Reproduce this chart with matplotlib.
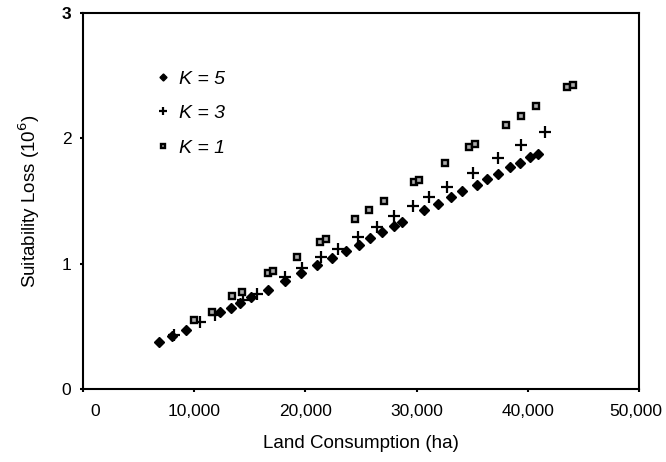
import matplotlib
matplotlib.use("Agg")
import matplotlib.pyplot as plt
import matplotlib.transforms as mtransforms

plt.rcParams['font.family'] = ['Liberation Sans', 'DejaVu Sans']

# K = 5 (diamonds)
k5_x = [6900, 8015, 9326, 12354, 13343, 14151, 15113, 16694, 18222, 19605,
        21070, 22355, 23675, 24817, 25832, 26883, 27925, 28707, 30657, 31915,
        33065, 34071, 35383, 36317, 37333, 38348, 39246, 40208, 40864]
k5_y = [0.377, 0.423, 0.471, 0.612, 0.649, 0.684, 0.732, 0.790, 0.858, 0.928,
        0.990, 1.045, 1.104, 1.152, 1.203, 1.255, 1.303, 1.330, 1.426, 1.479,
        1.534, 1.579, 1.626, 1.674, 1.718, 1.769, 1.804, 1.852, 1.873]

# K = 3 (plus)
k3_x = [8221, 10557, 11905, 14448, 15652, 18222, 19695, 21402, 22894, 24754,
        26398, 27988, 29669, 31133, 32705, 35024, 37270, 39399, 41556]
k3_y = [0.431, 0.532, 0.591, 0.710, 0.756, 0.896, 0.963, 1.051, 1.120, 1.215,
        1.295, 1.378, 1.460, 1.535, 1.608, 1.724, 1.844, 1.945, 2.054]

# K = 1 (squares)
k1_x = [10018, 11609, 13406, 14304, 16667, 17116, 19246, 21339, 21852, 24457,
        25742, 27063, 29785, 30172, 32508, 34727, 35239, 37989, 39399, 40720,
        43469, 44009]
k1_y = [0.551, 0.612, 0.742, 0.777, 0.922, 0.938, 1.057, 1.176, 1.200, 1.357,
        1.426, 1.498, 1.652, 1.670, 1.805, 1.934, 1.955, 2.107, 2.176, 2.259,
        2.413, 2.424]

x_ticks = [0, 10000, 20000, 30000, 40000, 50000]
x_labels = ['0', '10,000', '20,000', '30,000', '40,000', '50,000']
y_ticks = [0, 1, 2, 3]

fig = plt.figure(figsize=(6.66, 4.62), dpi=100)
ax = fig.add_axes([0.124, 0.158, 0.836, 0.814])

ax.plot(k5_x, k5_y, linestyle='none', marker='D', ms=5.5, color='black', label='K = 5')
ax.plot(k3_x, k3_y, linestyle='none', marker='+', ms=8, mew=1.6, color='black', label='K = 3')
ax.plot(k1_x, k1_y, linestyle='none', marker='s', ms=4.5, mew=1.7, mec='black',
        mfc='#aaaaaa', label='K = 1')

ax.set_xlim(0, 50000)
ax.set_ylim(0, 3)
ax.set_xticks(x_ticks)
ax.set_xticklabels(x_labels)
ax.set_yticks(y_ticks)
ax.tick_params(axis='both', length=2, width=1.5, labelsize=12.5, pad=6)
ax.tick_params(axis='x', pad=9)

# "0" on the x axis sits a little to the right of the origin
lbl0 = ax.get_xticklabels()[0]
lbl0.set_transform(lbl0.get_transform() + mtransforms.ScaledTranslation(0.13, 0, fig.dpi_scale_trans))
# "50,000" pulled in a touch so it stays inside the picture
lbl5 = ax.get_xticklabels()[-1]
lbl5.set_transform(lbl5.get_transform() + mtransforms.ScaledTranslation(-0.04, 0, fig.dpi_scale_trans))
ax.get_yticklabels()[-1].set_fontweight('bold')

for s in ax.spines.values():
    s.set_linewidth(1.5)
    s.set_color('black')

ax.set_xlabel('Land Consumption (ha)', fontsize=13.5, labelpad=11)
ax.set_ylabel('Suitability Loss (10$^6$)', fontsize=13.5, labelpad=14)

leg = ax.legend(loc='upper left', bbox_to_anchor=(0.095, 0.895), frameon=False,
                prop={'style': 'italic', 'size': 14}, labelspacing=0.88,
                handlelength=1.0, handletextpad=0.35, markerscale=0.65)

fig.savefig('out.png', dpi=100)
